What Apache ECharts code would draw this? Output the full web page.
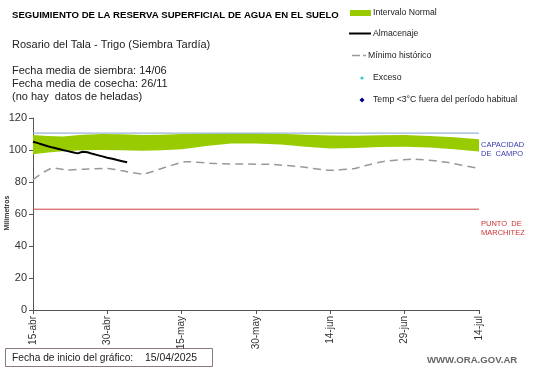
<!DOCTYPE html>
<html><head><meta charset="utf-8">
<script src="https://cdn.jsdelivr.net/npm/echarts@6/dist/echarts.min.js"></script>
<style>html,body{margin:0;padding:0;background:#fff}#c{width:541px;height:368px}</style>
</head><body><div id="c"></div>
<script>
// Tick labels (x axis: days since 15-abr, every 15 days)
const tickLabels = ['15-abr','30-abr','15-may','30-may','14-jun','29-jun','14-jul'];
// Intervalo normal (band)
const bandDays  = [0,3,6,10,14,18,22,26,30,35,40,45,50,55,60,65,70,75,80,85,90];
const bandLower = [97.3,98.5,99.2,99.8,100,99.8,99.5,99.8,100.5,102.5,104,104,103.5,102,101,101.3,101.8,102,101.5,100.5,99];
const bandUpper = [109.4,108.8,108.5,109.5,110,109.8,109.3,109.5,110,110.3,110.4,110.4,110.2,109.5,109,108.9,109.2,109.3,108.8,108,106.7];
// Almacenaje
const almDays = [0,1,2,3,4,5,6,7,8,9,10,11,12,13,14,15,16,17,18,19];
const almVals = [105.2,104.3,103.3,102.3,101.5,100.8,100,99.3,98.6,97.9,98.9,98.6,97.6,96.8,96,95.2,94.5,93.7,93,92.3];
// Mínimo histórico
const minDays = [0,4,7,10,15,18,22,27,31,37,43,48,54,60,65,68,71,77,83,90];
const minVals = [81.5,88.8,87.5,88,88.5,87,85,89.5,92.7,91.5,91.2,91,89.5,87.3,88.5,91,93,94.3,92.5,88.5];
// Reference levels
const capacidadCampo = 110.5;
const puntoMarchitez = 63;

const zip = (xs, ys) => xs.map((x, i) => [x, ys[i]]);
const bandData = bandDays.map((d, i) => [d, bandLower[i], bandUpper[i]]);
const chart = echarts.init(document.getElementById('c'), null, {renderer: 'canvas'});
const F = 'Liberation Sans, Arial, sans-serif';
chart.setOption({
  animation: false,
  grid: {left: 33, right: 62, top: 118, bottom: 58, outerBoundsMode: 'none', containLabel: false},
  xAxis: {
    type: 'value', min: 0, max: 90, interval: 15,
    splitLine: {show: false},
    axisLine: {lineStyle: {color: '#555'}},
    axisTick: {show: true, length: 4, lineStyle: {color: '#555'}},
    axisLabel: {rotate: 90, fontFamily: F, fontSize: 10, color: '#333', margin: 6,
      formatter: v => tickLabels[Math.round(v / 15)] || ''}
  },
  yAxis: {
    type: 'value', min: 0, max: 120, interval: 20,
    splitLine: {show: false},
    axisLine: {show: true, lineStyle: {color: '#555'}},
    axisTick: {show: true, length: 4, lineStyle: {color: '#555'}},
    axisLabel: {fontFamily: F, fontSize: 11, color: '#333', margin: 6}
  },
  series: [
    {type: 'custom', name: 'Intervalo Normal', data: bandData, silent: true, z: 1,
     encode: {x: 0, y: [1, 2]},
     renderItem: (params, api) => {
       if (params.dataIndex !== 0) return;
       const top = bandData.map(r => api.coord([r[0], r[2]]));
       const bot = bandData.map(r => api.coord([r[0], r[1]])).reverse();
       return {type: 'polygon', shape: {points: top.concat(bot)}, style: {fill: '#99cc00'}};
     }},
    {type: 'line', name: 'Capacidad', data: [[0, capacidadCampo], [90, capacidadCampo]],
     symbol: 'none', lineStyle: {color: '#9ab4dc', width: 1.2}, silent: true},
    {type: 'line', name: 'Marchitez', data: [[0, puntoMarchitez], [90, puntoMarchitez]],
     symbol: 'none', lineStyle: {color: '#d04040', width: 1}, silent: true},
    {type: 'line', name: 'Mínimo histórico', data: zip(minDays, minVals),
     symbol: 'none', smooth: 0.2, lineStyle: {color: '#999', width: 1.5, type: [8, 5]}, silent: true},
    {type: 'line', name: 'Almacenaje', data: zip(almDays, almVals),
     symbol: 'none', lineStyle: {color: '#000', width: 2}, silent: true}
  ],
  graphic: [
    {type: 'text', left: 12, top: 10, style: {text: 'SEGUIMIENTO DE LA RESERVA SUPERFICIAL DE AGUA EN EL SUELO', font: 'bold 9.6px ' + F, fill: '#000'}},
    {type: 'text', left: 12, top: 39, style: {text: 'Rosario del Tala - Trigo (Siembra Tardía)', font: '11px ' + F, fill: '#222'}},
    {type: 'text', left: 12, top: 64.5, style: {text: 'Fecha media de siembra: 14/06\nFecha media de cosecha: 26/11\n(no hay  datos de heladas)', font: '11px ' + F, fill: '#222', lineHeight: 13}},
    {type: 'text', x: 7, y: 213, rotation: Math.PI / 2, style: {text: 'Milímetros', font: 'bold 7px ' + F, fill: '#333', align: 'center', verticalAlign: 'middle'}},
    // legend
    {type: 'rect', shape: {x: 350, y: 10, width: 21, height: 6}, style: {fill: '#99cc00'}},
    {type: 'text', left: 373, top: 8, style: {text: 'Intervalo Normal', font: '8.7px ' + F, fill: '#222'}},
    {type: 'line', shape: {x1: 349, y1: 33.5, x2: 371, y2: 33.5}, style: {stroke: '#000', lineWidth: 2}},
    {type: 'text', left: 373, top: 29, style: {text: 'Almacenaje', font: '8.7px ' + F, fill: '#222'}},
    {type: 'line', shape: {x1: 352, y1: 55.5, x2: 366, y2: 55.5}, style: {stroke: '#999', lineWidth: 1.5, lineDash: [8, 3]}},
    {type: 'text', left: 368, top: 51, style: {text: 'Mínimo histórico', font: '8.7px ' + F, fill: '#222'}},
    {type: 'circle', shape: {cx: 362, cy: 78, r: 1.6}, style: {fill: '#33cccc'}},
    {type: 'text', left: 373, top: 73, style: {text: 'Exceso', font: '8.7px ' + F, fill: '#222'}},
    {type: 'polygon', shape: {points: [[362, 97.5], [364.5, 100], [362, 102.5], [359.5, 100]]}, style: {fill: '#000080'}},
    {type: 'text', left: 373, top: 95, style: {text: 'Temp <3°C fuera del período habitual', font: '8.7px ' + F, fill: '#222'}},
    // side labels
    {type: 'text', left: 481, top: 140.5, style: {text: 'CAPACIDAD\nDE  CAMPO', font: '7.5px ' + F, fill: '#3a3ab0', lineHeight: 9}},
    {type: 'text', left: 481, top: 219.5, style: {text: 'PUNTO  DE\nMARCHITEZ', font: '7.5px ' + F, fill: '#cc3333', lineHeight: 9}},
    // footer
    {type: 'rect', shape: {x: 5.5, y: 348.5, width: 207, height: 18}, style: {fill: '#fff', stroke: '#8a7a7a', lineWidth: 1}},
    {type: 'text', left: 12, top: 353.5, style: {text: 'Fecha de inicio del gráfico:', font: '10.2px ' + F, fill: '#222'}},
    {type: 'text', left: 145, top: 353.5, style: {text: '15/04/2025', font: '10.4px ' + F, fill: '#222'}},
    {type: 'text', left: 427, top: 355, style: {text: 'WWW.ORA.GOV.AR', font: 'bold 9.6px ' + F, fill: '#666'}}
  ]
});
</script></body></html>
